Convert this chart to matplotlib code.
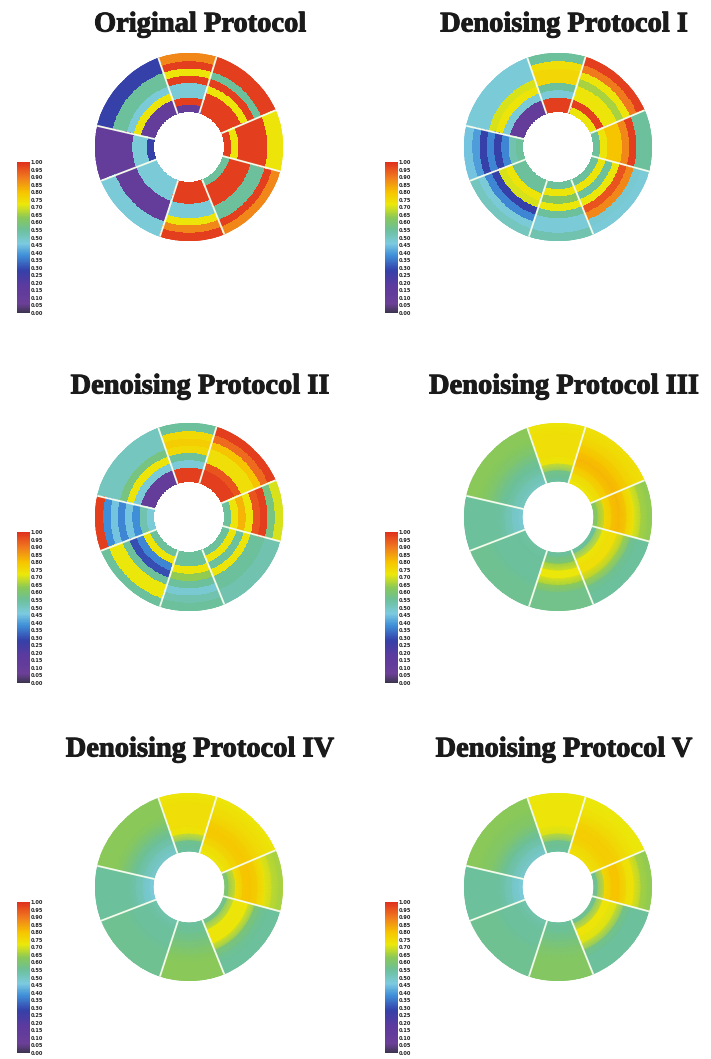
import numpy as np
import matplotlib
matplotlib.use("Agg")
import matplotlib.pyplot as plt
import matplotlib.patheffects as pe
from matplotlib.colors import LinearSegmentedColormap, Normalize
from matplotlib.cm import ScalarMappable

# ---- data: value per sector (rows) and ring (columns, inner -> outer) ----
# sector order: top-right, top, top-left, left, bottom-left, bottom, bottom-right, right
titles = ["Original Protocol", "Denoising Protocol I", "Denoising Protocol II",
          "Denoising Protocol III", "Denoising Protocol IV", "Denoising Protocol V"]

original_protocol = [
    [.98, .98, .98, .73, .98, .55, .98, .98],
    [.12, .98, .47, .47, .98, .73, .98, .88],
    [.12, .12, .73, .47, .55, .55, .28, .28],
    [.28, .47, .47, .12, .12, .12, .12, .12],
    [.47, .47, .47, .12, .12, .12, .47, .47],
    [.98, .98, .98, .47, .47, .73, .88, .98],
    [.55, .98, .98, .98, .55, .55, .98, .88],
    [.98, .73, .98, .98, .98, .98, .73, .73],
]
protocol_1 = [
    [.73, .98, .73, .73, .66, .73, .90, .98],
    [.98, .98, .47, .55, .76, .76, .74, .55],
    [.12, .12, .47, .73, .70, .47, .47, .47],
    [.55, .52, .37, .28, .37, .28, .40, .45],
    [.55, .55, .73, .70, .28, .37, .47, .50],
    [.55, .73, .62, .72, .55, .47, .47, .52],
    [.55, .73, .55, .72, .95, .88, .48, .47],
    [.55, .73, .80, .80, .88, .98, .55, .55],
]
protocol_2 = [
    [.98, .98, .95, .74, .74, .80, .92, .98],
    [.98, .98, .47, .55, .75, .78, .75, .55],
    [.12, .12, .47, .73, .58, .50, .50, .50],
    [.47, .52, .38, .45, .37, .45, .38, .98],
    [.55, .73, .37, .30, .55, .72, .72, .55],
    [.55, .55, .73, .64, .55, .48, .52, .55],
    [.55, .73, .55, .73, .55, .55, .52, .52],
    [.55, .73, .82, .73, .95, .98, .58, .70],
]
protocol_3 = [
    [.73, .76, .80, .82, .80, .77, .75, .74],
    [.55, .58, .72, .74, .74, .74, .74, .73],
    [.50, .53, .55, .57, .60, .62, .63, .63],
    [.48, .50, .53, .55, .55, .55, .55, .55],
    [.54, .55, .55, .55, .55, .56, .56, .56],
    [.55, .62, .72, .72, .64, .57, .57, .57],
    [.55, .72, .74, .74, .66, .57, .55, .55],
    [.62, .74, .80, .82, .78, .72, .66, .64],
]
protocol_4 = [
    [.73, .75, .78, .79, .77, .75, .74, .73],
    [.55, .57, .72, .74, .74, .74, .74, .73],
    [.49, .52, .55, .58, .61, .63, .63, .63],
    [.47, .50, .53, .55, .55, .55, .55, .55],
    [.53, .55, .55, .55, .56, .56, .56, .56],
    [.55, .56, .58, .60, .62, .63, .63, .63],
    [.57, .72, .73, .72, .60, .56, .55, .55],
    [.60, .73, .79, .80, .77, .73, .68, .66],
]
protocol_5 = [
    [.74, .76, .78, .78, .76, .74, .73, .72],
    [.55, .57, .70, .73, .73, .73, .73, .72],
    [.49, .52, .55, .58, .61, .62, .63, .63],
    [.47, .50, .53, .55, .55, .55, .55, .55],
    [.53, .55, .55, .55, .56, .56, .56, .56],
    [.55, .56, .58, .60, .61, .62, .62, .62],
    [.56, .73, .73, .70, .58, .55, .55, .55],
    [.56, .74, .80, .80, .74, .73, .66, .64],
]
panels = [original_protocol, protocol_1, protocol_2, protocol_3, protocol_4, protocol_5]
smooth = [False, False, False, True, True, True]

colorbar_ticks = np.linspace(0.0, 1.0, 21)
colorbar_labels = [f"{v:.2f}" for v in colorbar_ticks]

# ---- geometry ----
sector_edges_deg = [23, 73, 109, 167, 201, 252, 292, 345, 383]
r_in, r_out, n_rings = 36.0, 94.0, 8

cmap = LinearSegmentedColormap.from_list("bullseye", [
    (0.00, "#3d3550"), (0.06, "#6b3f98"), (0.18, "#5c3a9e"), (0.28, "#3440a8"),
    (0.38, "#3f8ed8"), (0.46, "#7ccbe0"), (0.55, "#6cc09a"), (0.63, "#88c85a"),
    (0.72, "#ece80a"), (0.80, "#f7c400"), (0.90, "#f07a1e"), (1.00, "#e0301e"),
])
norm = Normalize(0.0, 1.0)

W, H = 711, 1059
fig = plt.figure(figsize=(W / 100, H / 100), dpi=100)
fig.patch.set_facecolor("white")

centers_x = [189, 558]
centers_y = [147, 517, 887]
title_x = [200, 564]
title_y = [25, 387, 750]
cbar_x = [17, 385]
cbar_w = 13

for k, (vals, title) in enumerate(zip(panels, titles)):
    row, col = divmod(k, 2)
    cx, cy = centers_x[col], centers_y[row]
    ax = fig.add_axes([(cx - r_out) / W, 1 - (cy + r_out) / H, 2 * r_out / W, 2 * r_out / H],
                      projection="polar")
    ax.set_ylim(0, r_out)
    ax.set_axis_off()
    vals = np.asarray(vals)
    redges = np.linspace(r_in, r_out, n_rings + 1)
    for s in range(8):
        th = np.deg2rad(np.linspace(sector_edges_deg[s], sector_edges_deg[s + 1], 40))
        if smooth[k]:
            rc = 0.5 * (redges[:-1] + redges[1:])
            rn = np.concatenate([[r_in], rc, [r_out]])
            vn = np.concatenate([[vals[s, 0]], vals[s], [vals[s, -1]]])
            T, R = np.meshgrid(th, rn)
            C = np.repeat(vn[:, None], len(th), axis=1)
            ax.pcolormesh(T, R, C, cmap=cmap, norm=norm, shading="gouraud")
        else:
            T, R = np.meshgrid(th, redges)
            C = np.repeat(vals[s][:, None], len(th) - 1, axis=1)
            ax.pcolormesh(T, R, C, cmap=cmap, norm=norm, shading="flat",
                          edgecolor="face", linewidth=0.2)
    for e in sector_edges_deg[:-1]:
        t = np.deg2rad(e)
        ax.plot([t, t], [r_in - 1, r_out + 1], color="#f4fbea", lw=1.3, solid_capstyle="butt")

    fig.text(title_x[col] / W, 1 - title_y[row] / H, title, ha="center", va="center",
             fontsize=20.5, fontweight="bold", family="Liberation Serif", color="#1a1a1a",
             path_effects=[pe.withStroke(linewidth=0.7, foreground="#1a1a1a")])

    top = cy + 15
    bot = cy + 166
    cax = fig.add_axes([cbar_x[col] / W, 1 - bot / H, cbar_w / W, (bot - top) / H])
    cb = fig.colorbar(ScalarMappable(norm=norm, cmap=cmap), cax=cax, ticks=colorbar_ticks)
    cb.outline.set_visible(False)
    cb.ax.set_yticklabels(colorbar_labels)
    cb.ax.tick_params(length=0, pad=0.5, labelsize=3.6, labelcolor="#222222")
    for lab in cb.ax.get_yticklabels():
        lab.set_fontweight("bold")

fig.savefig("out.png", dpi=100, facecolor="white")
